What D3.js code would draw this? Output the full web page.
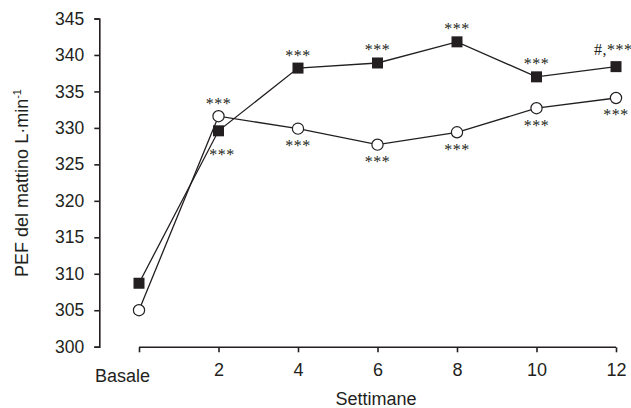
<!DOCTYPE html>
<html>
<head>
<meta charset="utf-8">
<script src="https://cdn.jsdelivr.net/npm/d3@7"></script>
<style>
  body { margin: 0; background: #fff; }
  svg { display: block; }
</style>
</head>
<body>
<svg id="chart" width="631" height="408"></svg>
<script>
// data
var categories = ["Basale", "2", "4", "6", "8", "10", "12"];
var squareValues = [308.7, 329.6, 338.2, 338.9, 341.8, 337.0, 338.4];
var circleValues = [305.0, 331.6, 329.9, 327.7, 329.4, 332.7, 334.1];
// significance marks: text above the square, text below the circle
var squareMarks = ["", "***", "***", "***", "***", "***", "#,***"];
var circleMarks = ["", "***", "***", "***", "***", "***", "***"];
var yTicks = [300, 305, 310, 315, 320, 325, 330, 335, 340, 345];

var svg = d3.select("#chart");
var ink = "#231f20";
var sans = "Liberation Sans, Arial, sans-serif";
var serif = "Liberation Serif, Times New Roman, serif";

var x = d3.scalePoint()
  .domain(categories)
  .range([139, 616]);

var y = d3.scaleLinear()
  .domain([300, 345])
  .range([346.7, 18.5]);

// y axis
var yAxis = svg.append("g")
  .attr("transform", "translate(99.3,0)")
  .call(d3.axisLeft(y).tickValues(yTicks).tickSize(5).tickPadding(10));
yAxis.select(".domain").attr("stroke", ink).attr("stroke-width", 1.6);
yAxis.selectAll(".tick line").attr("stroke", ink).attr("stroke-width", 1.6);
yAxis.selectAll("text")
  .style("font-family", sans)
  .style("font-size", "17.5px")
  .style("fill", ink);

// x axis
var xAxis = svg.append("g")
  .attr("transform", "translate(0,347.3)")
  .call(d3.axisBottom(x).tickSize(5).tickSizeOuter(0).tickPadding(11));
xAxis.select(".domain").attr("stroke", ink).attr("stroke-width", 1.6)
  .attr("d", "M" + x(categories[0]) + ",0H" + x(categories[categories.length - 1]));
xAxis.selectAll(".tick line").attr("stroke", ink).attr("stroke-width", 1.6);
xAxis.selectAll("text")
  .style("font-family", sans)
  .style("font-size", "18px")
  .style("fill", ink)
  .attr("dx", function(d) { return d === "Basale" ? -17 : 0; })
  .attr("dy", function(d) { return d === "Basale" ? "1.05em" : "0.71em"; });

// axis titles
svg.append("text")
  .attr("x", 376)
  .attr("y", 405)
  .attr("text-anchor", "middle")
  .style("font-family", sans)
  .style("font-size", "18px")
  .style("fill", ink)
  .text("Settimane");

var yTitle = svg.append("text")
  .attr("transform", "translate(28,183) rotate(-90)")
  .attr("text-anchor", "middle")
  .style("font-family", sans)
  .style("font-size", "18px")
  .style("fill", ink);
yTitle.append("tspan").text("PEF del mattino L\u00b7min");
yTitle.append("tspan").attr("dy", -7).style("font-size", "11px").text("-1");

// lines
var line = d3.line()
  .x(function(d, i) { return x(categories[i]); })
  .y(function(d) { return y(d); });

[squareValues, circleValues].forEach(function(vals) {
  svg.append("path")
    .datum(vals)
    .attr("d", line)
    .attr("fill", "none")
    .attr("stroke", ink)
    .attr("stroke-width", 1.3);
});

// markers
svg.selectAll("rect.sq")
  .data(squareValues)
  .enter()
  .append("rect")
    .attr("class", "sq")
    .attr("x", function(d, i) { return x(categories[i]) - 5.5; })
    .attr("y", function(d) { return y(d) - 5.5; })
    .attr("width", 11)
    .attr("height", 11)
    .attr("fill", ink);

svg.selectAll("circle.ci")
  .data(circleValues)
  .enter()
  .append("circle")
    .attr("class", "ci")
    .attr("cx", function(d, i) { return x(categories[i]); })
    .attr("cy", function(d) { return y(d); })
    .attr("r", 5.6)
    .attr("fill", "#fff")
    .attr("stroke", ink)
    .attr("stroke-width", 1.2);

// significance marks (week 2: circle sits above the square, so they swap)
function markText(cls, marks, vals, side) {
  svg.selectAll("text." + cls)
    .data(marks)
    .enter()
    .append("text")
      .attr("class", cls)
      .attr("x", function(d, i) {
        if (i === 6 && cls === "sqm") return x(categories[i]) - 22;
        if (i === 1 && cls === "sqm") return x(categories[i]) + 3.5;
        return x(categories[i]);
      })
      .attr("y", function(d, i) {
        var s = (i === 1) ? -side : side;
        var off = 15;
        if (i === 6 && cls === "sqm") off = 19;
        if (i === 1 && cls === "sqm") off = 22;
        return y(vals[i]) + s * off + 7.5;
      })
      .attr("text-anchor", function(d, i) { return (i === 6 && cls === "sqm") ? "start" : "middle"; })
      .style("font-family", serif)
      .style("font-size", "16px")
      .style("letter-spacing", "0.5px")
      .style("fill", ink)
      .text(function(d) { return d; });
}
markText("sqm", squareMarks, squareValues, -1);
markText("cim", circleMarks, circleValues, 1);
</script>
</body>
</html>
